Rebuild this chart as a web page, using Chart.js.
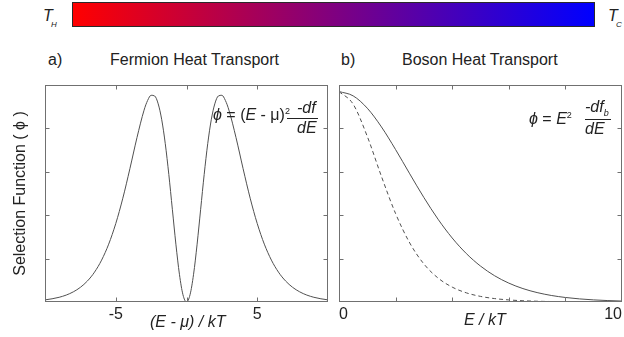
<!DOCTYPE html>
<html>
<head>
<meta charset="utf-8">
<script src="https://cdn.jsdelivr.net/npm/chart.js@4.4.1/dist/chart.umd.min.js"></script>
<style>
  body { margin: 0; background: #fff; }
  #page { position: relative; width: 624px; height: 337px; overflow: hidden;
          font-family: "Liberation Sans", Arial, sans-serif; color: #222; }
  .t { position: absolute; white-space: nowrap; font-size: 16px; line-height: 16px; }
  .s { position: absolute; white-space: nowrap; line-height: 1; }
  #bar { position: absolute; left: 72px; top: 2px; width: 523px; height: 25px; box-sizing: border-box;
         border: 1px solid #2a2a2a; background: linear-gradient(to right, #ff0000, #0000ff); }
  .rule { position: absolute; height: 1px; background: #222; }
  canvas { position: absolute; top: 0; }
</style>
</head>
<body>
<div id="page">
  <div id="bar"></div>
  <div class="t" style="left:43px;top:8px;font-style:italic">T</div>
  <div class="s" style="left:51px;top:21px;font-size:8px;font-style:italic">H</div>
  <div class="t" style="left:608px;top:8px;font-style:italic">T</div>
  <div class="s" style="left:616px;top:21px;font-size:8px;font-style:italic">C</div>

  <div class="t" style="left:48px;top:52px">a)</div>
  <div class="t" style="left:110px;top:52px">Fermion Heat Transport</div>
  <div class="t" style="left:341px;top:52px">b)</div>
  <div class="t" style="left:402px;top:52px">Boson Heat Transport</div>

  <canvas id="fermion" width="340" height="337" style="left:0"></canvas>
  <canvas id="boson" width="290" height="337" style="left:334px"></canvas>

  <!-- formulas -->
  <div class="t" style="left:213px;top:103px"><i>ϕ</i> = (<i>E</i> - μ)<sup style="font-size:9px;vertical-align:6px">2</sup></div>
  <div class="t" style="left:297px;top:100px;font-style:italic">-df</div>
  <div class="rule" style="left:287px;top:118px;width:31px"></div>
  <div class="t" style="left:297px;top:120px;font-style:italic">dE</div>

  <div class="t" style="left:529px;top:107px"><i>ϕ</i> = <i>E</i><sup style="font-size:9px;vertical-align:6px">2</sup></div>
  <div class="t" style="left:585px;top:99px;font-style:italic">-df<span style="font-size:9px;vertical-align:-4px">b</span></div>
  <div class="rule" style="left:585px;top:119px;width:26px"></div>
  <div class="t" style="left:585px;top:121px;font-style:italic">dE</div>

  <!-- axis titles -->
  <div class="t" style="left:150px;top:314px;font-style:italic">(E - μ) / kT</div>
  <div class="t" style="left:464px;top:312px;font-style:italic">E / kT</div>
</div>

<script>
// fermion panel: (E - mu)/kT and selection function
const fermionE = [-10, -9.5, -9, -8.5, -8, -7.5, -7, -6.5, -6, -5.5, -5, -4.5, -4, -3.5, -3,
  -2.75, -2.5, -2.25, -2, -1.75, -1.5, -1.25, -1, -0.75, -0.5, -0.25, 0,
  0.25, 0.5, 0.75, 1, 1.25, 1.5, 1.75, 2, 2.25, 2.5, 2.75,
  3, 3.5, 4, 4.5, 5, 5.5, 6, 6.5, 7, 7.5, 8, 8.5, 9, 9.5, 10];
const fermionPhi = [0.0045, 0.0068, 0.0100, 0.0147, 0.0215, 0.0311, 0.0446, 0.0633, 0.0888, 0.1226, 0.1662, 0.2200, 0.2826, 0.3485, 0.4066,
  0.4271, 0.4382, 0.4367, 0.4200, 0.3863, 0.3356, 0.2705, 0.1966, 0.1226, 0.0588, 0.0154, 0,
  0.0154, 0.0588, 0.1226, 0.1966, 0.2705, 0.3356, 0.3863, 0.4200, 0.4367, 0.4382, 0.4271,
  0.4066, 0.3485, 0.2826, 0.2200, 0.1662, 0.1226, 0.0888, 0.0633, 0.0446, 0.0311, 0.0215, 0.0147, 0.0100, 0.0068, 0.0045];
const fermionTicks = [-5, 0, 5];
const fermionLabels = [-5, 5];

// boson panel: E/kT, solid and dashed curves
const bosonE = [0, 0.5, 1, 1.5, 2, 2.5, 3, 3.5, 4, 4.5, 5, 5.5, 6, 6.5, 7, 7.5, 8, 8.5, 9, 9.5, 10];
const bosonPhi = [1, 0.9794, 0.9207, 0.8318, 0.7241, 0.6089, 0.4963, 0.3933, 0.3041, 0.2300, 0.1707,
  0.1246, 0.0897, 0.0637, 0.0448, 0.0311, 0.0215, 0.0147, 0.0100, 0.0068, 0.0045];
const bosonDashed = [1, 0.9400, 0.7864, 0.5966, 0.4200, 0.2804, 0.1807, 0.1138, 0.0707, 0.0435, 0.0266,
  0.0162, 0.0099, 0.0060, 0.0036, 0.0022, 0.0013, 0.0008, 0.0005, 0.0003, 0.0002];
const bosonTicks = [2, 4, 6, 8];
const bosonLabels = [0, 10];

const lineColor = '#505050';
const frameColor = '#707070';
const textColor = '#222';

// box around the plot area with short inward ticks on all four sides
const frame = {
  id: 'frame',
  afterDraw(chart, args, opts) {
    const { ctx, chartArea: a, scales: { x, y } } = chart;
    const L = Math.round(a.left) + 0.5, R = Math.round(a.right) - 0.5;
    const T = Math.round(a.top) + 0.5, B = Math.round(a.bottom) - 0.5;
    ctx.save();
    ctx.strokeStyle = frameColor;
    ctx.lineWidth = 1;
    ctx.strokeRect(L, T, R - L, B - T);
    ctx.beginPath();
    opts.xTicks.forEach(v => {
      const px = Math.round(x.getPixelForValue(v)) + 0.5;
      ctx.moveTo(px, B); ctx.lineTo(px, B - 4);
      ctx.moveTo(px, T); ctx.lineTo(px, T + 4);
    });
    for (let i = 1; i < 5; i++) {
      const py = Math.round(y.getPixelForValue(y.min + (y.max - y.min) * i / 5)) + 0.5;
      ctx.moveTo(L, py); ctx.lineTo(L + 4, py);
      ctx.moveTo(R, py); ctx.lineTo(R - 4, py);
    }
    ctx.stroke();
    ctx.restore();
  }
};

const tickFont = { family: '"Liberation Sans", Arial, sans-serif', size: 16 };

function xAxis(min, max, step, labels, align) {
  return {
    type: 'linear', min: min, max: max,
    ticks: {
      stepSize: step, color: textColor, font: tickFont, padding: 3, maxRotation: 0, align: align,
      autoSkip: false,
      callback: v => labels.includes(v) ? String(v) : ''
    },
    grid: { display: false, drawTicks: false },
    border: { display: false },
    afterFit: s => { s.height = 35; s.paddingLeft = 0; s.paddingRight = 0; }
  };
}

new Chart(document.getElementById('fermion'), {
  type: 'line',
  data: {
    datasets: [{
      data: fermionE.map((e, i) => ({ x: e, y: fermionPhi[i] })),
      borderColor: lineColor, borderWidth: 1, pointRadius: 0,
      cubicInterpolationMode: 'monotone', fill: false
    }]
  },
  options: {
    responsive: false,
    animation: false,
    layout: { padding: { top: 85, right: 12, left: 0, bottom: 0 } },
    plugins: { legend: { display: false }, tooltip: { enabled: false }, frame: { xTicks: fermionTicks } },
    scales: {
      x: xAxis(-10, 10, 5, fermionLabels, 'center'),
      y: {
        min: 0, max: 0.46,
        ticks: { display: false },
        grid: { display: false, drawTicks: false },
        border: { display: false },
        title: { display: true, text: 'Selection Function ( ϕ )', color: textColor, font: tickFont, padding: { top: 11, bottom: 0 } },
        afterFit: s => { s.width = 45; }
      }
    }
  },
  plugins: [frame]
});

new Chart(document.getElementById('boson'), {
  type: 'line',
  data: {
    datasets: [{
      data: bosonE.map((e, i) => ({ x: e, y: bosonPhi[i] })),
      borderColor: lineColor, borderWidth: 1, pointRadius: 0,
      cubicInterpolationMode: 'monotone', fill: false
    }, {
      data: bosonE.map((e, i) => ({ x: e, y: bosonDashed[i] })),
      borderColor: lineColor, borderWidth: 1, borderDash: [4, 3], pointRadius: 0,
      cubicInterpolationMode: 'monotone', fill: false
    }]
  },
  options: {
    responsive: false,
    animation: false,
    layout: { padding: { top: 85, right: 2, left: 5, bottom: 0 } },
    plugins: { legend: { display: false }, tooltip: { enabled: false }, frame: { xTicks: bosonTicks } },
    scales: {
      x: xAxis(0, 10, 2, bosonLabels, 'inner'),
      y: { display: false, min: 0, max: 1.031 }
    }
  },
  plugins: [frame]
});
</script>
</body>
</html>
